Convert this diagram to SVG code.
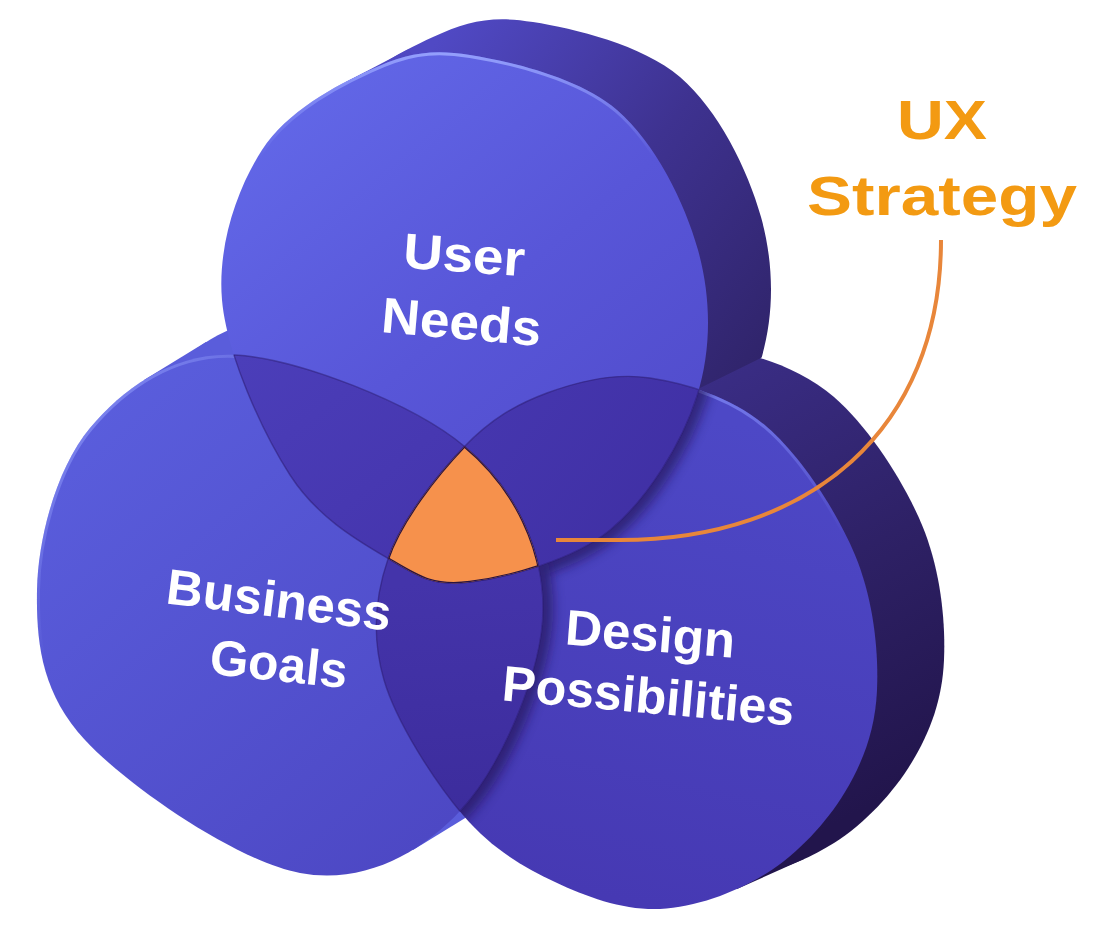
<svg xmlns="http://www.w3.org/2000/svg" width="1116" height="925" viewBox="0 0 1116 925">
<style>
.lbl{font-family:"Liberation Sans",Arial,sans-serif;font-weight:700;font-size:50px;fill:#ffffff;text-anchor:middle}
.ux{font-family:"Liberation Sans",Arial,sans-serif;font-weight:700;font-size:55px;fill:#f39a12;text-anchor:middle}
.edge{fill:none;stroke:#2a1a6e;stroke-width:1.4;stroke-opacity:.5}
.oedge{fill:none;stroke:#2a1440;stroke-width:2.4}
</style>
<defs>
<path id="pU" d="M222,300 C217.3,245.8 237.3,188.3 262,150 C286.7,111.7 335.3,85.8 370,70 C404.7,54.2 428.8,48.3 470,55 C511.2,61.7 579,77.5 617,110 C655,142.5 684.7,202.3 698,250 C711.3,297.7 711.7,349.3 697,396 C682.3,442.7 647.8,499 610,530 C572.2,561 506.8,577.2 470,582 C433.2,586.8 419,576.8 389,559 C359,541.2 317.8,518.2 290,475 C262.2,431.8 226.7,354.2 222,300 Z"/>
<path id="pB" d="M37,590 C37.8,538 57,467.2 90,428 C123,388.8 172.7,352 235,355 C297.3,358 412.7,403.5 464,446 C515.3,488.5 543.5,549.3 543,610 C542.5,670.7 501.5,766.2 461,810 C420.5,853.8 362.7,884.7 300,873 C237.3,861.3 128.8,787.2 85,740 C41.2,692.8 36.2,642 37,590 Z"/>
<path id="pD" d="M464,447 C490.5,419.3 516,404.5 547,393 C578,381.5 613.3,372.3 650,378 C686.7,383.7 732.8,397.5 767,427 C801.2,456.5 836.7,511.2 855,555 C873.3,598.8 878.7,650.5 877,690 C875.3,729.5 863.3,761.5 845,792 C826.7,822.5 797.8,853.5 767,873 C736.2,892.5 695.3,907.5 660,909 C624.7,910.5 587.8,897.7 555,882 C522.2,866.3 491.5,848.7 463,815 C434.5,781.3 396.5,722.7 384,680 C371.5,637.3 374.7,597.8 388,559 C401.3,520.2 437.5,474.7 464,447 Z"/>
<clipPath id="cU"><use href="#pU"/></clipPath>
<clipPath id="cB"><use href="#pB"/></clipPath>
<clipPath id="cD"><use href="#pD"/></clipPath>
<clipPath id="cUside"><polygon points="0,0 1116,0 1116,183 700,388 300,585 0,585"/></clipPath>
<linearGradient id="gSideU" gradientUnits="userSpaceOnUse" x1="400" y1="40" x2="770" y2="330">
<stop offset="0" stop-color="#5049c4"/><stop offset="0.5" stop-color="#3e3290"/><stop offset="1" stop-color="#2f2368"/>
</linearGradient>
<linearGradient id="gSideD" gradientUnits="userSpaceOnUse" x1="720" y1="360" x2="940" y2="760">
<stop offset="0" stop-color="#3a2d85"/><stop offset="0.5" stop-color="#2e2166"/><stop offset="1" stop-color="#22154c"/>
</linearGradient>
<linearGradient id="gU" gradientUnits="userSpaceOnUse" x1="260" y1="80" x2="660" y2="560">
<stop offset="0" stop-color="#6369e9"/><stop offset="0.5" stop-color="#5856d8"/><stop offset="1" stop-color="#4f49c8"/>
</linearGradient>
<linearGradient id="gB" gradientUnits="userSpaceOnUse" x1="80" y1="400" x2="480" y2="860">
<stop offset="0" stop-color="#5a5edd"/><stop offset="1" stop-color="#4c46c2"/>
</linearGradient>
<linearGradient id="gD" gradientUnits="userSpaceOnUse" x1="720" y1="420" x2="620" y2="900">
<stop offset="0" stop-color="#4d48c6"/><stop offset="1" stop-color="#4639b3"/>
</linearGradient>
<linearGradient id="gUB" gradientUnits="userSpaceOnUse" x1="250" y1="350" x2="420" y2="560">
<stop offset="0" stop-color="#4b3eb9"/><stop offset="1" stop-color="#4535ad"/>
</linearGradient>
<linearGradient id="gUD" gradientUnits="userSpaceOnUse" x1="500" y1="400" x2="680" y2="540">
<stop offset="0" stop-color="#4536ae"/><stop offset="1" stop-color="#3f2fa3"/>
</linearGradient>
<linearGradient id="gBD" gradientUnits="userSpaceOnUse" x1="450" y1="580" x2="470" y2="820">
<stop offset="0" stop-color="#4434aa"/><stop offset="1" stop-color="#3c2c9c"/>
</linearGradient>
<linearGradient id="rimU" x1="0" y1="0" x2="0" y2="1">
<stop offset="0" stop-color="#9aa6ff" stop-opacity="0.9"/><stop offset="0.2" stop-color="#9aa6ff" stop-opacity="0"/>
</linearGradient>
<linearGradient id="rimB" x1="0" y1="0" x2="1" y2="1">
<stop offset="0" stop-color="#9aa6ff" stop-opacity="0.8"/><stop offset="0.3" stop-color="#9aa6ff" stop-opacity="0"/>
</linearGradient>
<linearGradient id="rimD" x1="0" y1="0" x2="0" y2="1">
<stop offset="0" stop-color="#8a94ff" stop-opacity="0.7"/><stop offset="0.3" stop-color="#8a94ff" stop-opacity="0"/>
</linearGradient>
<filter id="blur" x="-20%" y="-20%" width="140%" height="140%"><feGaussianBlur stdDeviation="6"/></filter>
</defs>

<g id="sides">
<g id="side-business" fill="#5a5ddb">
<use href="#pB" transform="translate(62,-38)"/>
<polygon points="144,380 206,342 475,812 413,850"/>
</g>
<g id="side-design" fill="url(#gSideD)">
<use href="#pD" transform="translate(67,-30)"/>
<polygon points="529,400 596,370 804,859 737,889"/>
</g>
<g id="side-user" fill="url(#gSideU)" clip-path="url(#cUside)">
<use href="#pU" transform="translate(63,-33)"/>
<polygon points="346,82 409,49 648,514 585,547"/>
</g>
</g>

<g id="design-possibilities">
<use href="#pD" fill="url(#gD)"/>
<g clip-path="url(#cD)"><use href="#pD" fill="none" stroke="url(#rimD)" stroke-width="6"/></g>
<g clip-path="url(#cD)" opacity="0.6">
<use href="#pU" fill="none" stroke="#1c0e48" stroke-width="20" filter="url(#blur)"/>
<use href="#pB" fill="none" stroke="#1c0e48" stroke-width="20" filter="url(#blur)"/>
</g>
</g>

<g id="business-goals">
<use href="#pB" fill="url(#gB)"/>
<g clip-path="url(#cB)"><use href="#pB" fill="none" stroke="url(#rimB)" stroke-width="6"/></g>
</g>

<g id="user-needs">
<use href="#pU" fill="url(#gU)"/>
<g clip-path="url(#cU)"><use href="#pU" fill="none" stroke="url(#rimU)" stroke-width="6"/></g>
</g>

<g id="overlaps">
<g clip-path="url(#cU)"><use href="#pB" fill="url(#gUB)"/></g>
<g clip-path="url(#cU)"><use href="#pD" fill="url(#gUD)"/></g>
<g clip-path="url(#cB)"><use href="#pD" fill="url(#gBD)"/></g>
<g clip-path="url(#cU)"><use href="#pB" class="edge"/><use href="#pD" class="edge"/></g>
<g clip-path="url(#cB)"><use href="#pU" class="edge"/><use href="#pD" class="edge"/></g>
<g clip-path="url(#cD)"><use href="#pU" class="edge"/><use href="#pB" class="edge"/></g>
</g>

<g id="ux-strategy-core">
<g clip-path="url(#cU)"><g clip-path="url(#cB)">
<use href="#pD" fill="#f6914c"/>
<g clip-path="url(#cD)">
<use href="#pU" class="oedge"/><use href="#pB" class="oedge"/><use href="#pD" class="oedge"/>
</g>
</g></g>
</g>

<g id="labels">
<text class="lbl" x="463" y="272" textLength="122" lengthAdjust="spacingAndGlyphs" transform="rotate(4 463 272)">User</text>
<text class="lbl" x="460" y="339" textLength="160" lengthAdjust="spacingAndGlyphs" transform="rotate(5 460 339)">Needs</text>
<text class="lbl" x="277" y="617" textLength="226" lengthAdjust="spacingAndGlyphs" transform="rotate(7 277 617)">Business</text>
<text class="lbl" x="277" y="681" textLength="138" lengthAdjust="spacingAndGlyphs" transform="rotate(6 277 681)">Goals</text>
<text class="lbl" x="649" y="651" textLength="170" lengthAdjust="spacingAndGlyphs" transform="rotate(4.5 649 651)">Design</text>
<text class="lbl" x="647" y="713" textLength="293" lengthAdjust="spacingAndGlyphs" transform="rotate(5 647 713)">Possibilities</text>
</g>

<g id="ux-strategy-label">
<text class="ux" x="942" y="139" textLength="90" lengthAdjust="spacingAndGlyphs">UX</text>
<text class="ux" x="942" y="215" textLength="270" lengthAdjust="spacingAndGlyphs">Strategy</text>
</g>

<g id="connectors">
<path d="M941,240 C941,430 810,540 620,540 L556,540" fill="none" stroke="#e8863a" stroke-width="4"/>
</g>
</svg>
